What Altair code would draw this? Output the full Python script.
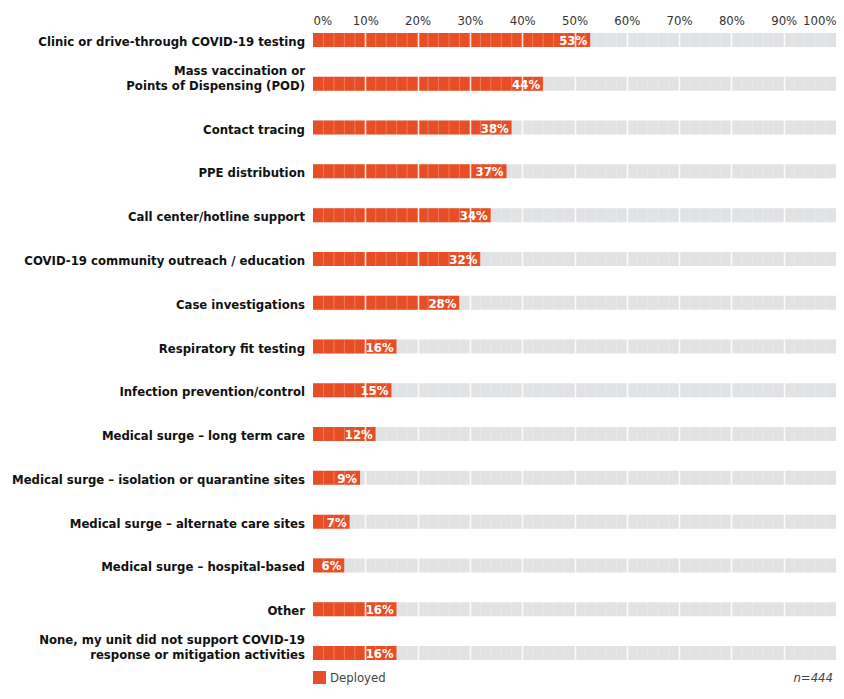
import altair as alt
import pandas as pd

categories = [
    "Clinic or drive-through COVID-19 testing",
    "Mass vaccination or\nPoints of Dispensing (POD)",
    "Contact tracing",
    "PPE distribution",
    "Call center/hotline support",
    "COVID-19 community outreach / education",
    "Case investigations",
    "Respiratory fit testing",
    "Infection prevention/control",
    "Medical surge \u2013 long term care",
    "Medical surge \u2013 isolation or quarantine sites",
    "Medical surge \u2013 alternate care sites",
    "Medical surge \u2013 hospital-based",
    "Other",
    "None, my unit did not support COVID-19\nresponse or mitigation activities",
]
values = [53, 44, 38, 37, 34, 32, 28, 16, 15, 12, 9, 7, 6, 16, 16]
series_name = "Deployed"
sample_note = "n=444"
major_ticks = list(range(0, 101, 10))
minor_ticks = [v for v in range(2, 100, 2) if v % 10 != 0]

ORANGE = "#E84E25"
GREY = "#E1E2E4"
FONT = "DejaVu Sans Condensed, Liberation Sans Narrow, Roboto, sans-serif"

df = pd.DataFrame({
    "category": categories,
    "value": values,
    "full": [100] * len(categories),
    "zero": [0] * len(categories),
    "series": [series_name] * len(categories),
    "label": [f"{v}%" for v in values],
    "multi": ["\n" in c for c in categories],
})

grid_df = pd.DataFrame(
    [{"category": c, "g": g} for c in categories for g in minor_ticks]
)

W = 523
H = 631

y_enc = alt.Y(
    "category:N",
    sort=categories,
    axis=None,
    scale=alt.Scale(paddingInner=0.68, paddingOuter=0.046),
)

x_scale = alt.Scale(domain=[0, 100], nice=False)

x_axis = alt.Axis(
    orient="top",
    values=major_ticks,
    labelExpr="datum.value + '%'",
    labelFlush=True,
    labelOverlap=False,
    labelFont=FONT,
    labelFontSize=13,
    labelColor="#333333",
    labelPadding=4,
    ticks=False,
    domain=False,
    grid=True,
    gridColor="white",
    gridWidth=1.6,
    gridOpacity={"condition": {"test": "datum.value == 0 || datum.value == 100", "value": 0}, "value": 0.85},
    zindex=1,
    title=None,
)

base = alt.Chart(df)

bg = base.mark_bar(color=GREY, cornerRadius=0).encode(
    x=alt.X("zero:Q", scale=x_scale, axis=x_axis, title=None),
    x2="full:Q",
    y=y_enc,
)

fg = base.mark_bar(cornerRadius=0).encode(
    x=alt.X("zero:Q", scale=x_scale, axis=x_axis, title=None),
    x2="value:Q",
    y=y_enc,
    color=alt.Color(
        "series:N",
        scale=alt.Scale(domain=[series_name], range=[ORANGE]),
        legend=alt.Legend(
            title=None,
            orient="none",
            legendX=0,
            legendY=H + 9,
            symbolType="square",
            symbolSize=169,
            symbolStrokeWidth=0,
            symbolOpacity=1,
            labelFont=FONT,
            labelFontSize=13,
            labelColor="#444444",
            padding=0,
        ),
    ),
)

vals = base.mark_text(
    align="right", baseline="middle", dx=-3, dy=1,
    color="white", font=FONT, fontWeight="bold", fontSize=13,
).encode(
    x=alt.X("value:Q", scale=x_scale, axis=x_axis, title=None),
    y=y_enc,
    text="label:N",
)

minor = alt.Chart(grid_df).mark_tick(
    color="white", opacity=0.25, thickness=1, size=14,
).encode(
    x=alt.X("g:Q", scale=x_scale, axis=x_axis, title=None),
    y=y_enc,
)

names_single = base.transform_filter("!datum.multi").mark_text(
    align="right", baseline="bottom", dx=-8, dy=9, lineBreak="\n",
    color="#111111", font=FONT, fontWeight="bold", fontSize=13, lineHeight=15,
).encode(
    x=alt.value(0),
    y=y_enc,
    text="category:N",
)

names_multi = base.transform_filter("datum.multi").mark_text(
    align="right", baseline="bottom", dx=-8, dy=-6, lineBreak="\n",
    color="#111111", font=FONT, fontWeight="bold", fontSize=13, lineHeight=15,
).encode(
    x=alt.value(0),
    y=y_enc,
    text="category:N",
)

note = alt.Chart(pd.DataFrame({"t": [sample_note]})).mark_text(
    align="right", baseline="middle", font=FONT, fontStyle="italic",
    fontSize=13, color="#444444",
).encode(
    x=alt.value(W - 3),
    y=alt.value(H + 16),
    text="t:N",
)

chart = (
    alt.layer(bg, fg, vals, minor, names_single, names_multi, note)
    .properties(
        width=W,
        height=H,
        padding={"left": 305, "top": 23, "right": 0, "bottom": 25},
        autosize=alt.AutoSizeParams(type="none"),
    )
    .configure_view(stroke=None)
)

chart.save("out.html", embed_options={"renderer": "svg", "actions": False})
